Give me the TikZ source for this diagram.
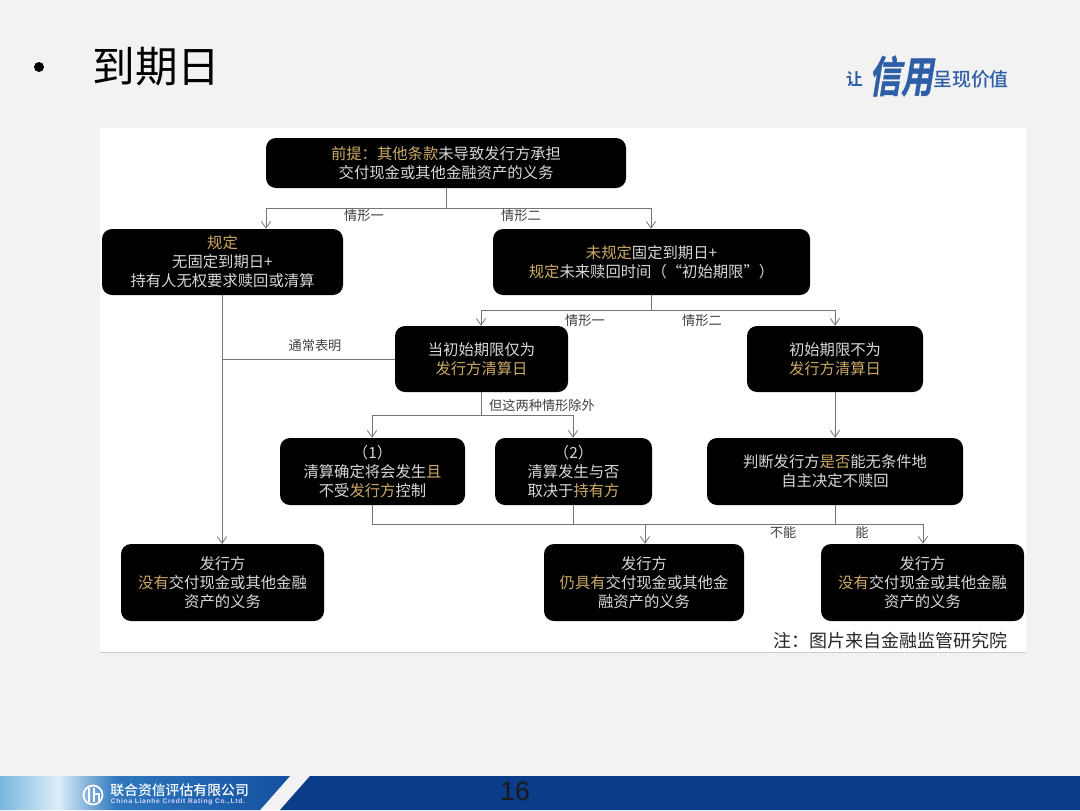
\documentclass[tikz,border=0pt]{standalone}
\usepackage{fontspec}
\usepackage{graphicx}
\setmainfont{Liberation Sans}
\newfontfamily\cjk{Noto Sans CJK SC}
\newfontfamily\cjkm{Noto Sans CJK SC Medium}
\newfontfamily\cjkbold{Noto Sans CJK SC Bold}
\newfontfamily\cjkslant[FakeSlant=0.22,FakeBold=1]{Noto Sans CJK SC Bold}
\usetikzlibrary{arrows.meta}
\definecolor{pagebg}{HTML}{F2F2F2}
\definecolor{goldtxt}{HTML}{CDAA66}
\definecolor{softw}{HTML}{D8D8D8}
\definecolor{linegray}{HTML}{757575}
\definecolor{logoblue}{HTML}{2E5FA6}
\definecolor{navy}{HTML}{0B3C8A}
\definecolor{bana}{HTML}{78B6DE}
\definecolor{banb}{HTML}{DCEDF7}
\definecolor{banc}{HTML}{2E78BE}
\definecolor{band}{HTML}{14509F}
\pgfdeclarehorizontalshading{bannershade}{100bp}{color(0bp)=(bana); color(25bp)=(bana); color(35bp)=(banb); color(45bp)=(banc); color(75bp)=(band); color(100bp)=(band)}
\newcommand{\gd}[1]{\textcolor{goldtxt}{#1}}
\newcommand{\bx}[6]{\node[flowbox,minimum width={(#4-#2)*0.75pt},minimum height={(#5-#3)*0.75pt}] (#1) at ({(#2+#4)/2},{(#3+#5)/2}) {#6};}
\tikzset{
  flowbox/.style={fill=black,draw=none,rounded corners=7.5pt,text=softw,align=center,inner sep=0pt,
    font=\cjk\fontsize{11.5pt}{14.2pt}\selectfont},
  conn/.style={draw=linegray,line width=0.75pt},
  arr/.style={conn,-{Straight Barb[length=5pt,width=7pt,line width=0.6pt]}},
  lab/.style={text=black!75,inner sep=0pt,font=\cjk\fontsize{9.9pt}{12pt}\selectfont}
}
\begin{document}
\begin{tikzpicture}[x=0.75pt,y=-0.75pt]
\useasboundingbox (0,0) rectangle (1080,810);
\fill[pagebg] (0,0) rectangle (1080,810);
% heading
\fill[black] (39,67) circle (5);
\node[inner sep=0pt,text=black] (title) at (156.5,66.5) {\cjk\fontsize{32pt}{36pt}\selectfont 到期日};
% logo text
\node[inner sep=0pt,text=logoblue] (logoa) at (854.5,79) {\cjkbold\fontsize{12.5pt}{14pt}\selectfont 让};
\node[inner sep=0pt,text=logoblue] (logob) at (901,76) {\scalebox{1}[1.35]{\cjkslant\fontsize{24pt}{26pt}\selectfont 信用}};
\node[inner sep=0pt,text=logoblue] (logoc) at (971,79) {\cjkm\fontsize{14.2pt}{16pt}\selectfont 呈现价值};
% picture panel
\fill[white] (100,128) rectangle (1026,652);
\draw[black!20,line width=0.6pt] (100,652.5) -- (1026,652.5);
% boxes
\bx{n0}{266}{138}{626}{188}{\gd{前提：其他条款}未导致发行方承担\\交付现金或其他金融资产的义务}
\bx{n1}{102}{229}{343}{295}{\gd{规定}\\无固定到期日+\\持有人无权要求赎回或清算}
\bx{n2}{493}{229}{810}{295}{\gd{未规定}固定到期日+\\\gd{规定}未来赎回时间（“初始期限”）}
\bx{n3}{395}{326}{568}{392}{当初始期限仅为\\\gd{发行方清算日}}
\bx{n4}{747}{326}{923}{392}{初始期限不为\\\gd{发行方清算日}}
\bx{n5}{280}{438}{465}{505}{（1）\\清算确定将会发生\gd{且}\\不受\gd{发行方}控制}
\bx{n6}{495}{438}{652}{505}{（2）\\清算发生与否\\取决于\gd{持有方}}
\bx{n7}{707}{438}{963}{505}{判断发行方\gd{是否}能无条件地\\自主决定不赎回}
\bx{n8}{121}{544}{324}{621}{发行方\\\gd{没有}交付现金或其他金融\\资产的义务}
\bx{n9}{544}{544}{744}{621}{发行方\\\gd{仍具有}交付现金或其他金\\融资产的义务}
\bx{n10}{821}{544}{1024}{621}{发行方\\\gd{没有}交付现金或其他金融\\资产的义务}
% junction coordinates
\coordinate (j0) at (446,208);
\coordinate (j0l) at (266,208);
\coordinate (j0r) at (651,208);
\coordinate (j1) at (651,310);
\coordinate (j1l) at (481,310);
\coordinate (j1r) at (835,310);
\coordinate (j2) at (481,415);
\coordinate (j2l) at (372,415);
\coordinate (j2r) at (573,415);
\coordinate (j3l) at (372,524);
\coordinate (j3m) at (645,524);
\coordinate (j3r) at (923,524);
\coordinate (s1) at (222,295);
\coordinate (s8) at (222,544);
\coordinate (t3) at (222,359);
% connectors
\draw[conn] (j0 |- n0.south) -- (j0);
\draw[conn] (j0l) -- (j0r);
\draw[arr] (j0l) -- (j0l |- n1.north);
\draw[arr] (j0r) -- (j0r |- n2.north);
\draw[conn] (j1 |- n2.south) -- (j1);
\draw[conn] (j1l) -- (j1r);
\draw[arr] (j1l) -- (j1l |- n3.north);
\draw[arr] (j1r) -- (j1r |- n4.north);
\draw[arr] (s1) -- (s8);
\draw[conn] (n3.west |- t3) -- (t3);
\draw[conn] (j2 |- n3.south) -- (j2);
\draw[conn] (j2l) -- (j2r);
\draw[arr] (j2l) -- (j2l |- n5.north);
\draw[arr] (j2r) -- (j2r |- n6.north);
\draw[arr] (j1r |- n4.south) -- (j1r |- n7.north);
\draw[conn] (j3l |- n5.south) -- (j3l);
\draw[conn] (j2r |- n6.south) -- (j2r |- j3l);
\draw[conn] (j1r |- n7.south) -- (j1r |- j3l);
\draw[conn] (j3l) -- (j3r);
\draw[arr] (j3m) -- (j3m |- n9.north);
\draw[arr] (j3r) -- (j3r |- n10.north);
% connector labels
\node[lab] (l1) at (364,216) {情形一};
\node[lab] (l2) at (521,216) {情形二};
\node[lab] (l3) at (585,320.5) {情形一};
\node[lab] (l4) at (702,320.5) {情形二};
\node[lab] (l5) at (315,346) {通常表明};
\node[lab] (l6) at (542,405) {但这两种情形除外};
\node[lab] (l7) at (783,532) {不能};
\node[lab] (l8) at (862,532) {能};
% note
\node[inner sep=0pt,text=black!85] (note) at (890,641) {\cjk\fontsize{13.5pt}{15pt}\selectfont 注：图片来自金融监管研究院};
% footer band
\shade[shading=bannershade] (0,776) -- (290,776) -- (260,810) -- (0,810) -- cycle;
\fill[navy] (310,776) -- (1080,776) -- (1080,810) -- (280,810) -- cycle;
\draw[white,line width=1.3pt] (93,795) circle (9.5);
\draw[white,line width=1.5pt] (89,788) -- (89,802);
\draw[white,line width=1.5pt] (94,788) -- (94,802);
\draw[white,line width=1.5pt] (94,794) -- (98.5,794) -- (98.5,802);
\node[inner sep=0pt,text=white,anchor=west] (co) at (110,790) {\cjkm\fontsize{10.4pt}{12pt}\selectfont 联合资信评估有限公司};
\node[inner sep=0pt,text=white!85!blue,anchor=west] (coen) at (110.5,801.5) {\addfontfeature{LetterSpace=11}\fontsize{5pt}{6pt}\selectfont\bfseries China Lianhe Credit Rating Co.,Ltd.};
\node[inner sep=0pt,text=black!90] (pg) at (515,791) {\fontsize{20pt}{24pt}\selectfont 16};
\end{tikzpicture}
\end{document}
